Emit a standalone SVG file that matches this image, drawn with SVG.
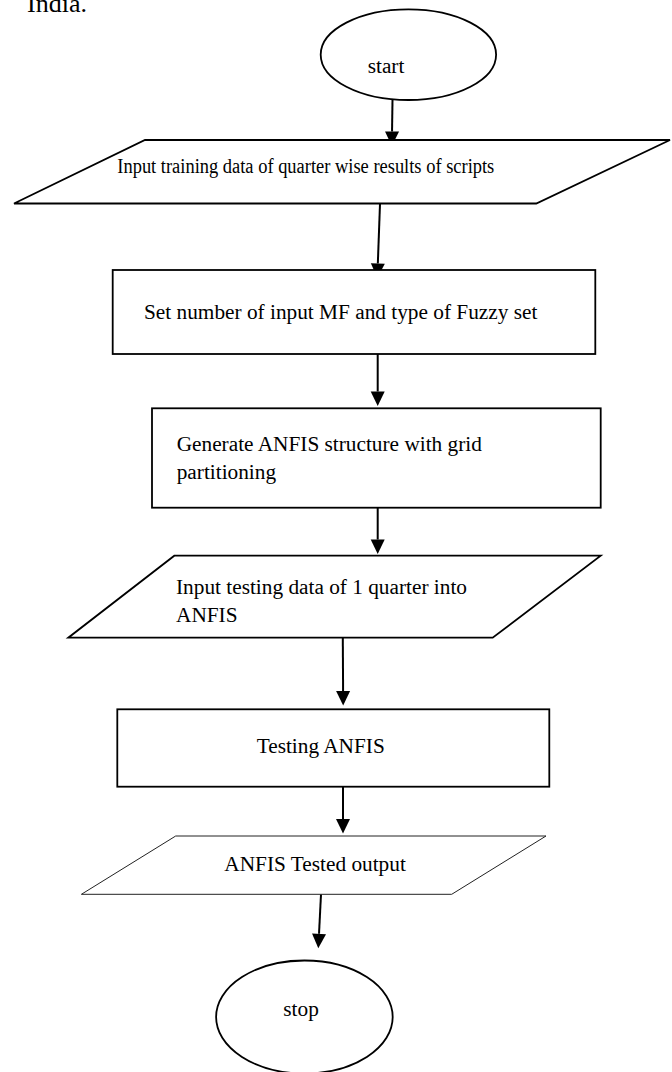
<svg xmlns="http://www.w3.org/2000/svg" width="672" height="1072" viewBox="0 0 672 1072">
<defs>
<style>
.shape{fill:#ffffff;stroke:#000000;stroke-width:1.8}
.thin{fill:#ffffff;stroke:#222222;stroke-width:1}
.lbl{font-family:"Liberation Serif","Times New Roman",serif;font-size:21.3px;fill:#000000}
.head{font-family:"Liberation Serif","Times New Roman",serif;font-size:26px;fill:#000000}
.conn{fill:none;stroke:#000000;stroke-width:2;marker-end:url(#arrow)}
</style>
<marker id="arrow" markerUnits="userSpaceOnUse" markerWidth="15" markerHeight="15" refX="0" refY="7" orient="auto" overflow="visible">
<path d="M0,0 L14.5,7 L0,14 Z" fill="#000000"/>
</marker>
</defs>
<rect width="672" height="1072" fill="#ffffff"/>
<text class="head" x="27" y="11.5">India.</text>
<g id="connectors">
<path class="conn" d="M392.5,100 L392.04,131.5"/>
<path class="conn" d="M380,204 L377.83,263.5"/>
<path class="conn" d="M377.7,354 L377.7,391.5"/>
<path class="conn" d="M377.7,507.7 L377.7,539.5"/>
<path class="conn" d="M342.8,637.7 L343.1,691"/>
<path class="conn" d="M343,786.7 L343,819"/>
<path class="conn" d="M321,894.3 L319.02,933.8"/>
</g>
<g id="start">
<ellipse class="shape" cx="408.4" cy="54.7" rx="87.7" ry="45.3"/>
<text class="lbl" x="367.7" y="73.3">start</text>
</g>
<g id="input-training">
<polygon class="shape" points="145,140 670,140 536.3,203.5 14,203.5"/>
<text class="lbl" x="117.3" y="172.5" textLength="377" lengthAdjust="spacingAndGlyphs">Input training data of quarter wise results of scripts</text>
</g>
<g id="set-mf">
<rect class="shape" x="112.7" y="270" width="482.6" height="84"/>
<text class="lbl" x="144" y="319.3">Set number of input MF and type of Fuzzy set</text>
</g>
<g id="generate-anfis">
<rect class="shape" x="152" y="408.3" width="448.7" height="99.4"/>
<text class="lbl" x="176.7" y="450.7">Generate ANFIS structure with grid</text>
<text class="lbl" x="176.7" y="479">partitioning</text>
</g>
<g id="input-testing">
<polygon class="shape" points="174.3,555.7 600.7,555.7 492.7,637.7 68.3,637.7"/>
<text class="lbl" x="176" y="594">Input testing data of 1 quarter into</text>
<text class="lbl" x="176" y="622.3">ANFIS</text>
</g>
<g id="testing-anfis">
<rect class="shape" x="117.3" y="709.3" width="432" height="77.4"/>
<text class="lbl" x="256.7" y="753.3">Testing ANFIS</text>
</g>
<g id="tested-output">
<polygon class="thin" points="175.7,836 546,836 451.7,894.3 81.4,894.3"/>
<text class="lbl" x="224.3" y="870.7">ANFIS Tested output</text>
</g>
<g id="stop">
<ellipse class="shape" cx="304.4" cy="1017" rx="88.3" ry="56.5"/>
<text class="lbl" x="283.3" y="1016">stop</text>
</g>
</svg>
